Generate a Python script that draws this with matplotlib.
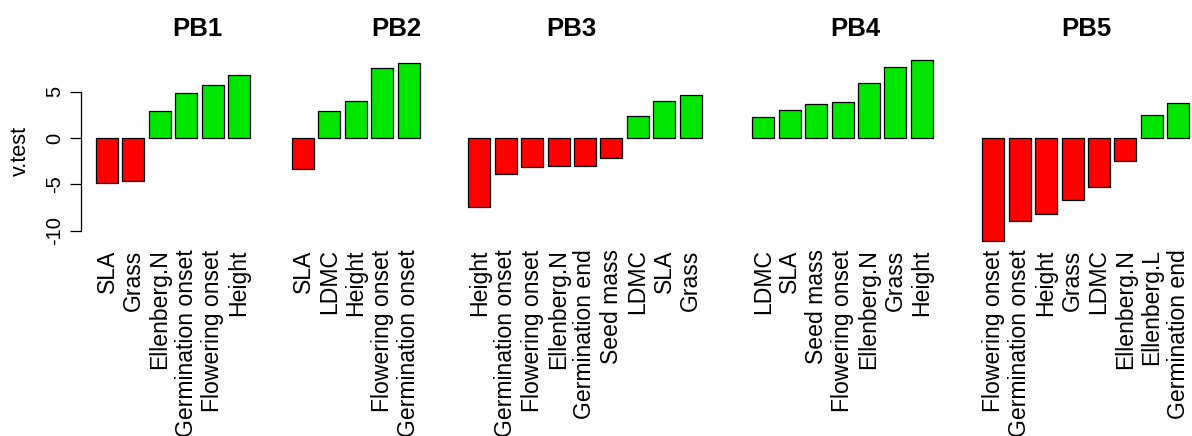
import matplotlib
matplotlib.use("Agg")
import matplotlib.pyplot as plt
import numpy as np

plt.rcParams['font.family'] = ['Liberation Sans', 'DejaVu Sans']

titles = ["PB1", "PB2", "PB3", "PB4", "PB5"]

pb1_labels = ["SLA", "Grass", "Ellenberg.N", "Germination onset", "Flowering onset", "Height"]
pb1_values = [-4.89, -4.6, 2.95, 4.82, 5.75, 6.83]

pb2_labels = ["SLA", "LDMC", "Height", "Flowering onset", "Germination onset"]
pb2_values = [-3.31, 2.95, 3.96, 7.59, 8.13]

pb3_labels = ["Height", "Germination onset", "Flowering onset", "Ellenberg.N",
              "Germination end", "Seed mass", "LDMC", "SLA", "Grass"]
pb3_values = [-7.41, -3.92, -3.09, -2.99, -2.99, -2.16, 2.41, 4.03, 4.64]

pb4_labels = ["LDMC", "SLA", "Seed mass", "Flowering onset", "Ellenberg.N", "Grass", "Height"]
pb4_values = [2.3, 3.02, 3.63, 3.92, 5.97, 7.69, 8.38]

pb5_labels = ["Flowering onset", "Germination onset", "Height", "Grass", "LDMC",
              "Ellenberg.N", "Ellenberg.L", "Germination end"]
pb5_values = [-11.08, -8.92, -8.17, -6.69, -5.25, -2.48, 2.48, 3.78]

y_ticks = [-10, -5, 0, 5]
y_label = "v.test"

panels = [(pb1_labels, pb1_values), (pb2_labels, pb2_values), (pb3_labels, pb3_values),
          (pb4_labels, pb4_values), (pb5_labels, pb5_values)]

W, H, DPI = 1192, 436, 100
fig = plt.figure(figsize=(W / DPI, H / DPI), dpi=DPI)

u = 22.0                      # px per bar unit
first_left = [96, 292, 468.3, 752.3, 982.3]
title_x = [197, 396.7, 571.7, 855, 1086.7]
top_px, bot_px = 57.4, 244.6
ylim = (-11.5, 8.7)
pad_px = 15.0

RED = "#FF0000"
GREEN = "#00E600"

for i, (labels, vals) in enumerate(panels):
    n = len(vals)
    x0 = 0.2 - pad_px / u
    x1 = 1.2 * n + pad_px / u
    left_px = first_left[i] - pad_px
    width_px = (x1 - x0) * u
    ax = fig.add_axes([left_px / W, 1 - bot_px / H, width_px / W, (bot_px - top_px) / H])
    ax.set_xlim(x0, x1)
    ax.set_ylim(*ylim)
    pos = 0.7 + 1.2 * np.arange(n)
    cols = [RED if v < 0 else GREEN for v in vals]
    ax.bar(pos, vals, width=1.0, color=cols, edgecolor="black", linewidth=0.9)
    ax.set_xticks(pos)
    ax.set_xticklabels(labels, rotation=90, fontsize=16.6, va="top", ha="center")
    ax.tick_params(axis="x", length=0, pad=3.4)
    for s in ["top", "right", "bottom"]:
        ax.spines[s].set_visible(False)
    if i == 0:
        ax.spines["left"].set_bounds(-10, 5)
        ax.spines["left"].set_linewidth(0.9)
        ax.set_yticks(y_ticks)
        ax.set_yticklabels([str(t) for t in y_ticks], rotation=90, va="center", fontsize=14.5)
        ax.tick_params(axis="y", length=8, width=0.9, pad=4)
    else:
        ax.spines["left"].set_visible(False)
        ax.set_yticks([])
    ax.patch.set_alpha(0)
    fig.text(title_x[i] / W, 1 - 36 / H, titles[i], ha="center", va="baseline",
             fontsize=18.5, fontweight="bold")

fig.text(20 / W, 1 - 151 / H, y_label, rotation=90, ha="center", va="center", fontsize=15.6)

fig.savefig("out.png", dpi=DPI)
